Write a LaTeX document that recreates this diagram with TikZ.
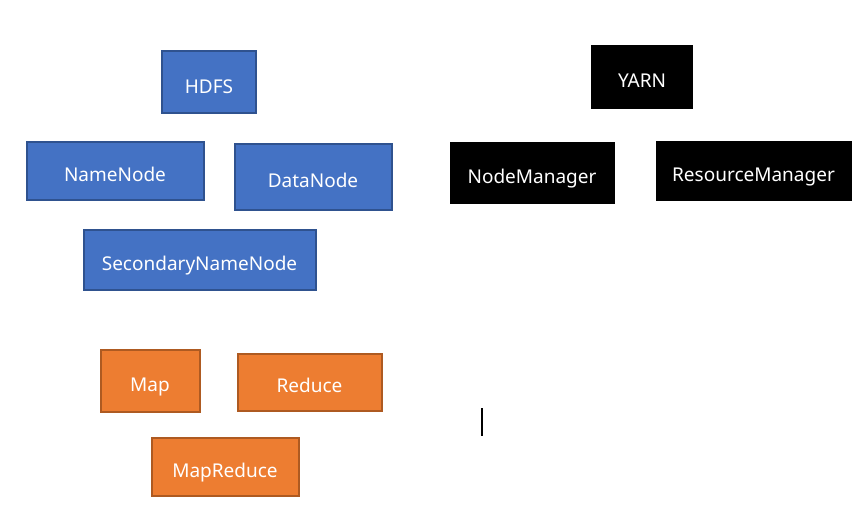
\documentclass[tikz,border=0pt]{standalone}
\usepackage{fontspec}
\setmainfont{Noto Sans}
\definecolor{bfill}{HTML}{4472C4}
\definecolor{bline}{HTML}{2F528F}
\definecolor{ofill}{HTML}{ED7D31}
\definecolor{oline}{HTML}{AE5A21}
\begin{document}
\begin{tikzpicture}[x=1pt,y=-1pt,
  box/.style={text=white,font=\fontsize{19}{22}\selectfont,inner sep=0pt,text height=21.5pt,text depth=0pt},
  bluebox/.style={box,fill=bfill,draw=bline,line width=2pt},
  orangebox/.style={box,fill=ofill,draw=oline,line width=2pt},
  blackbox/.style={box,fill=black,draw=black,line width=0.5pt}]
\useasboundingbox (0,0) rectangle (864,505);
\fill[white] (0,0) rectangle (864,505);
% HDFS
\node[bluebox,minimum width=94pt,minimum height=62pt] (hdfs) at (209,82.5) {HDFS};
\node[bluebox,minimum width=177pt,minimum height=57pt] (nn) at (115,171) {NameNode};
\node[bluebox,minimum width=157pt,minimum height=65pt] (dn) at (313,177) {DataNode};
\node[bluebox,minimum width=232pt,minimum height=60pt] (snn) at (199.5,259.5) {SecondaryNameNode};
% YARN
\node[blackbox,minimum width=101pt,minimum height=63pt] (yarn) at (642,76.5) {YARN};
\node[blackbox,minimum width=164pt,minimum height=61pt] (nm) at (532,172.5) {NodeManager};
\node[blackbox,minimum width=195pt,minimum height=59pt] (rm) at (753.5,170.5) {ResourceManager};
% MapReduce
\node[orangebox,minimum width=99pt,minimum height=62pt] (map) at (150,381) {Map};
\node[orangebox,minimum width=144pt,minimum height=57pt] (red) at (309.5,382) {Reduce};
\node[orangebox,minimum width=147pt,minimum height=58pt] (mr) at (225,466.5) {MapReduce};
% cursor
\coordinate (c1) at (482,408);
\coordinate (c2) at (482,436);
\draw[line width=1.2pt] (c1) -- (c2);
\end{tikzpicture}
\end{document}
